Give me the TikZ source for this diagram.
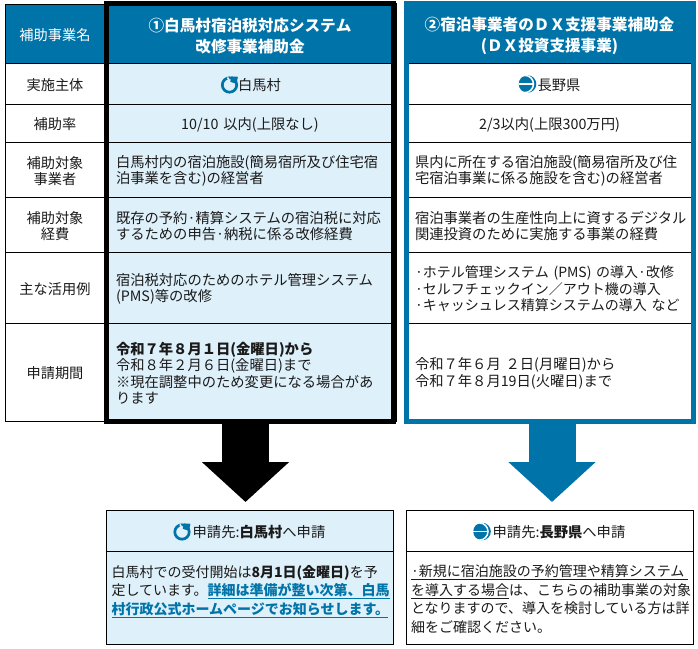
\documentclass[tikz,border=0pt]{standalone}
\usepackage{fontspec}
\setmainfont{Noto Sans CJK JP}
\XeTeXlinebreaklocale "ja"
\XeTeXlinebreakskip=0pt
\usepackage{xcolor}
\usepackage{tikz}
\usetikzlibrary{positioning, arrows.meta}

\definecolor{hojoblue}{HTML}{0074A9}
\definecolor{hojolight}{HTML}{DEF0FA}
\definecolor{hojoink}{HTML}{1A1A1A}
\newcommand{\fitline}[2]{\leavevmode\hbox to #1{\XeTeXlinebreakskip=0pt plus 3pt minus 1pt\relax #2}}
\newcommand{\bluerule}[1]{{\color{hojoblue}\underline{#1}}}

\tikzset{
    basecell/.style={anchor=north west, outer sep=0pt, inner ysep=0pt, draw=black, line width=0.8pt, text=hojoink, text height=15pt, font=\fontsize{14.3}{16.5}\selectfont},
    labelcell/.style={basecell, minimum width=100pt, align=center, text width=96pt, inner xsep=2pt, font=\fontsize{14.2}{16.5}\selectfont},
    headcell/.style={basecell, fill=hojoblue, text=white, text height=19pt, minimum height=60pt, align=center, font=\fontsize{15.6}{21}\selectfont\bfseries},
    acell/.style={basecell, fill=hojolight, text width=268pt, inner xsep=12pt},
    bcell/.style={basecell, text width=269pt, inner xsep=11pt},
    applyhead/.style={basecell, minimum width=287pt, minimum height=41pt, text width=285pt, inner xsep=1pt, align=center},
    frameline/.style={draw, fill=none, line width=5pt, minimum width=287pt, minimum height=418pt},
    bigarrow/.style={line width=47pt, -{Triangle[length=40pt, width=85pt]}},
    hakubamark/.pic={
        \draw[hojoblue, line width=2.7pt] (0,0) circle (7.2);
        \draw[hojolight, line width=1.6pt] (-2,-7.6)--(0.5,-3.2);
        \fill[hojoblue] (0.8,-3.2)--(1.8,-8.6)--(8.4,-8.2)--(7,-1.2)--cycle;
    },
    naganomark/.pic={
        \fill[hojoblue] (0,0) circle (8.8);
        \draw[white, line width=1.4pt] (-9,0)--(5,0);
        \draw[white, line width=1.5pt] (-2.6,0) circle (8.6);
    }
}

\begin{document}
\begin{tikzpicture}[x=1pt, y=-1pt]
    \useasboundingbox (0,0) rectangle (698,648);
    \node[labelcell, fill=hojoblue, text=white, minimum height=59pt] (rowl0) at (5,4) {補助事業名};
    \foreach \i/\ytop/\rowh/\rowlab in {1/63/41/実施主体, 2/104/38/補助率, 3/142/55/{補助対象\\事業者}, 4/197/55/{補助対象\\経費}, 5/252/71/主な活用例, 6/323/98/申請期間}
        \node[labelcell, minimum height=\rowh pt] (rowl\i) at (5,\ytop) {\rowlab};

    \node[headcell, text width=268pt, inner xsep=12pt] (rowa0) at (104,3) {①白馬村宿泊税対応システム\\改修事業補助金};
    \node[acell, align=center, minimum height=41pt] (rowa1) at (104,63) {\hspace*{19pt}白馬村};
    \node[acell, align=center, minimum height=38pt] (rowa2) at (104,104) {10/10 以内(上限なし)};
    \node[acell, align=left, minimum height=55pt] (rowa3) at (104,142) {\fitline{268pt}{白馬村内の宿泊施設(簡易宿所及び住宅宿}\\泊事業を含む)の経営者};
    \node[acell, align=left, minimum height=55pt] (rowa4) at (104,197) {\fitline{268pt}{既存の予約·精算システムの宿泊税に対応}\\するための申告·納税に係る改修経費};
    \node[acell, align=left, minimum height=71pt] (rowa5) at (104,252) {\fitline{267pt}{宿泊税対応のためのホテル管理システム}\\(PMS)等の改修};
    \node[acell, align=left, minimum height=98pt] (rowa6) at (104,323) {\textbf{令和７年８月１日(金曜日)から}\\令和８年２月６日(金曜日)まで\\\fitline{268pt}{※現在調整中のため変更になる場合があ}\\ります};

    \node[headcell, text width=269pt, inner xsep=11pt] (rowb0) at (404,3) {②宿泊事業者のＤＸ支援事業補助金\\(ＤＸ投資支援事業)};
    \node[bcell, align=center, minimum height=41pt] (rowb1) at (404,63) {\hspace*{19pt}長野県};
    \node[bcell, align=center, minimum height=38pt] (rowb2) at (404,104) {2/3以内(上限300万円)};
    \node[bcell, align=left, minimum height=55pt] (rowb3) at (404,142) {\fitline{268pt}{県内に所在する宿泊施設(簡易宿所及び住}\\宅宿泊事業に係る施設を含む)の経営者};
    \node[bcell, align=left, minimum height=55pt] (rowb4) at (404,197) {\fitline{268pt}{宿泊事業者の生産性向上に資するデジタル}\\関連投資のために実施する事業の経費};
    \node[bcell, align=left, minimum height=71pt, font=\fontsize{14}{16.5}\selectfont] (rowb5) at (404,252) {·ホテル管理システム (PMS) の導入·改修\\·セルフチェックイン／アウト機の導入\\·キャッシュレス精算システムの導入 など};
    \node[bcell, align=left, minimum height=98pt] (rowb6) at (404,323) {令和７年６月 ２日(月曜日)から\\令和７年８月19日(火曜日)まで};

    \node[frameline, draw=black, anchor=center] (framea) at (250,212.5) {};
    \node[frameline, draw=hojoblue, anchor=center] (frameb) at (549.5,212.5) {};

    \node[applyhead, fill=hojolight] (boxahead) at (106,510) {\hspace*{19pt}申請先:\textbf{白馬村}へ申請};
    \node[basecell, fill=hojolight, text width=276pt, inner xsep=5.5pt, align=left, minimum height=93pt, font=\fontsize{14}{18.5}\selectfont] (boxabody) at (106,551) {\fitline{276pt}{白馬村での受付開始は\textbf{8月1日(金曜日)}を予}\\\fitline{276pt}{定しています。\bluerule{\textbf{詳細は準備が整い次第、白馬}}}\\{\color{hojoblue}\underline{\fitline{276pt}{\textbf{村行政公式ホームページでお知らせします。}}}}\\\mbox{}};
    \node[applyhead] (boxbhead) at (406,510) {\hspace*{19pt}申請先:\textbf{長野県}へ申請};
    \node[basecell, text width=277pt, inner xsep=5pt, align=left, minimum height=93pt, font=\fontsize{14}{18.5}\selectfont] (boxbbody) at (406,551) {\underline{\fitline{277pt}{·新規に宿泊施設の予約管理や精算システム}}\\\fitline{277pt}{\underline{を導入する場合}は、こちらの補助事業の対象}\\\fitline{277pt}{となりますので、導入を検討している方は詳}\\細をご確認ください。};

    \coordinate (tipa) at (245.5,502);
    \coordinate (tipb) at (552,502);
    \draw[bigarrow, black] (framea.south -| tipa)--(tipa);
    \draw[bigarrow, hojoblue] (frameb.south -| tipb)--(tipb);

    \pic at (229.5,85) {hakubamark};
    \pic at (182,532) {hakubamark};
    \pic at (527.5,84) {naganomark};
    \pic at (482,531.5) {naganomark};
\end{tikzpicture}
\end{document}
